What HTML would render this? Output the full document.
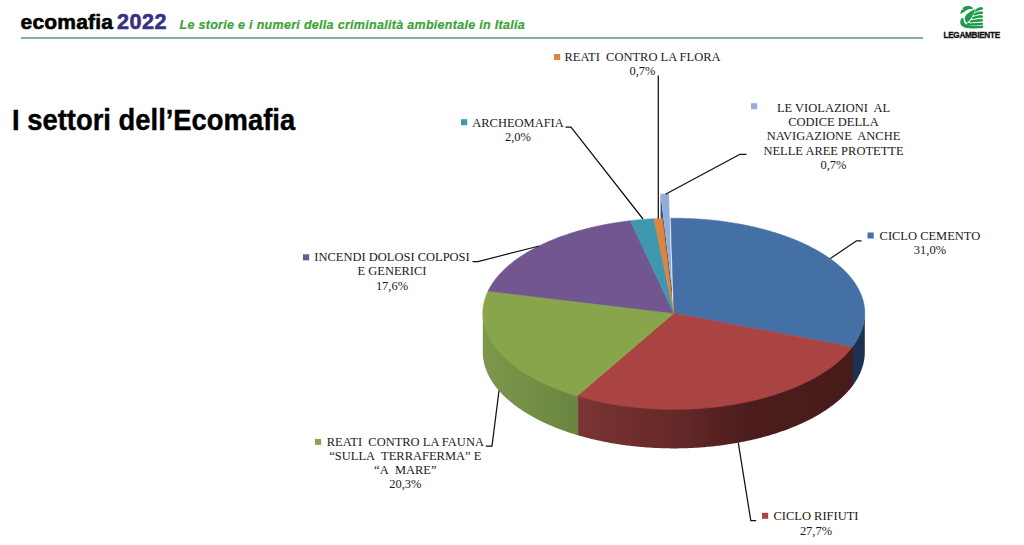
<!DOCTYPE html>
<html><head><meta charset="utf-8">
<style>
html,body{margin:0;padding:0;background:#fff;width:1024px;height:545px;overflow:hidden;position:relative}
.h{position:absolute;font-family:"Liberation Sans",sans-serif;font-weight:bold;white-space:nowrap;line-height:1}
#eco{left:20.5px;top:10.5px;font-size:21px;color:#000;letter-spacing:0.2px;-webkit-text-stroke:0.6px #000}
#yr{left:117px;top:11px;font-size:21.6px;color:#383087;letter-spacing:0.45px;-webkit-text-stroke:0.6px #383087}
#sub{left:179.5px;top:19px;font-size:12.5px;color:#3aa336;font-style:italic;letter-spacing:0.3px;-webkit-text-stroke:0.2px #3aa336}
#rule{position:absolute;left:21px;top:37px;width:902px;height:2px;background:#84acaa}
#title{left:12px;top:105px;font-size:29.3px;color:#000;-webkit-text-stroke:0.4px #000;transform:scaleX(0.935);transform-origin:0 0}
#lg{left:943.5px;top:31.8px;font-size:8.2px;color:#111;letter-spacing:-0.3px;-webkit-text-stroke:0.3px #111}
svg{position:absolute;left:0;top:0}
.lb{font-family:"Liberation Serif",serif;font-size:13.3px;fill:#1a1a1a}
</style></head><body>
<div class="h" id="eco">ecomafia</div>
<div class="h" id="yr">2022</div>
<div class="h" id="sub">Le storie e i numeri della criminalità ambientale in Italia</div>
<div id="rule"></div>
<div class="h" id="title">I settori dell’Ecomafia</div>
<div class="h" id="lg">LEGAMBIENTE</div>
<svg width="1024" height="545" viewBox="0 0 1024 545">
<g transform="translate(957,4) scale(0.04771)" fill="#1f9a4a">
<path d="M72,212 C78,150 100,95 150,60 C190,38 270,38 312,62 C328,74 334,90 328,108 C290,98 240,102 205,127 C170,152 130,182 72,212 Z"/>
<circle cx="120" cy="108" r="14" fill="#fff"/>
<path d="M398,98 C320,128 188,200 168,270 C158,332 183,382 215,398 C292,332 352,230 398,98 Z"/>
<path d="M112,282 C58,330 48,420 118,472 C180,518 330,518 548,502 L548,452 C420,468 300,468 222,438 C150,408 128,360 140,308 Z"/>
<g fill="none" stroke="#1f9a4a" stroke-linecap="round">
<path d="M392,142 C430,110 500,88 515,95" stroke-width="58"/>
<path d="M370,217 C420,190 500,178 515,185" stroke-width="58"/>
<path d="M345,292 C400,270 490,260 515,265" stroke-width="58"/>
<path d="M300,367 C370,350 480,343 515,345" stroke-width="58"/>
<path d="M235,427 C330,427 470,425 518,415" stroke-width="55"/>
</g>
<g fill="none" stroke="#fff" stroke-width="13">
<path d="M382,182 C430,150 500,138 565,140"/>
<path d="M357,257 C420,230 490,220 565,222"/>
<path d="M322,332 C390,310 480,302 565,303"/>
<path d="M268,402 C350,390 470,383 565,380"/>
<path d="M400,95 C352,230 292,332 218,398" stroke-width="11"/>
</g>
</g>
<defs>
<linearGradient id="gb" gradientUnits="userSpaceOnUse" x1="483" y1="0" x2="865" y2="0">
<stop offset="0" stop-color="#2a4870"/><stop offset="1" stop-color="#1c3150"/></linearGradient>
<linearGradient id="gr" gradientUnits="userSpaceOnUse" x1="577" y1="0" x2="865" y2="0">
<stop offset="0" stop-color="#7b3433"/><stop offset="0.35" stop-color="#652828"/><stop offset="0.6" stop-color="#4c1c1c"/><stop offset="1" stop-color="#471b1b"/></linearGradient>
<linearGradient id="gg" gradientUnits="userSpaceOnUse" x1="483" y1="0" x2="577" y2="0">
<stop offset="0" stop-color="#7d974b"/><stop offset="1" stop-color="#6a8540"/></linearGradient>
</defs>
<path d="M671.95,288.70 L660.56,193.87 L660.56,215.87 L671.95,310.70 Z" fill="#34527e"/>
<path d="M671.95,288.70 L660.56,193.87 L662.23,193.82 L663.91,193.78 L665.59,193.75 L667.27,193.73 L668.95,193.71 Z" fill="#92ADD8"/>
<path d="M864.80,311.70 L864.79,312.53 L864.77,313.37 L864.73,314.20 L864.68,315.03 L864.62,315.87 L864.54,316.70 L864.44,317.53 L864.33,318.36 L864.21,319.20 L864.07,320.03 L863.91,320.86 L863.74,321.69 L863.56,322.52 L863.36,323.35 L863.15,324.18 L862.92,325.01 L862.68,325.83 L862.43,326.66 L862.16,327.49 L861.87,328.31 L861.57,329.13 L861.26,329.96 L860.93,330.78 L860.59,331.60 L860.23,332.41 L859.86,333.23 L859.47,334.05 L859.07,334.86 L858.66,335.67 L858.23,336.48 L857.79,337.29 L857.33,338.10 L856.86,338.90 L856.38,339.71 L855.88,340.51 L855.36,341.31 L854.84,342.10 L854.30,342.90 L853.74,343.69 L853.17,344.48 L852.59,345.27 L851.99,346.06 L851.99,386.56 L852.59,385.77 L853.17,384.98 L853.74,384.19 L854.30,383.40 L854.84,382.60 L855.36,381.81 L855.88,381.01 L856.38,380.21 L856.86,379.40 L857.33,378.60 L857.79,377.79 L858.23,376.98 L858.66,376.17 L859.07,375.36 L859.47,374.55 L859.86,373.73 L860.23,372.91 L860.59,372.10 L860.93,371.28 L861.26,370.46 L861.57,369.63 L861.87,368.81 L862.16,367.99 L862.43,367.16 L862.68,366.33 L862.92,365.51 L863.15,364.68 L863.36,363.85 L863.56,363.02 L863.74,362.19 L863.91,361.36 L864.07,360.53 L864.21,359.70 L864.33,358.86 L864.44,358.03 L864.54,357.20 L864.62,356.37 L864.68,355.53 L864.73,354.70 L864.77,353.87 L864.79,353.03 L864.80,352.20 Z" fill="url(#gb)"/>
<path d="M852.94,344.80 L852.35,345.59 L851.75,346.37 L851.14,347.15 L850.51,347.92 L849.88,348.69 L849.22,349.47 L848.56,350.23 L847.88,351.00 L847.18,351.76 L846.48,352.52 L845.76,353.28 L845.03,354.03 L844.28,354.78 L843.52,355.53 L842.75,356.27 L841.97,357.01 L841.17,357.75 L840.36,358.48 L839.54,359.21 L838.71,359.94 L837.86,360.66 L837.00,361.38 L836.13,362.10 L835.24,362.81 L834.34,363.52 L833.43,364.22 L832.51,364.92 L831.58,365.62 L830.63,366.31 L829.68,367.00 L828.71,367.69 L827.73,368.37 L826.73,369.04 L825.73,369.71 L824.71,370.38 L823.68,371.04 L822.65,371.70 L821.60,372.36 L820.53,373.01 L819.46,373.65 L818.38,374.29 L817.28,374.93 L816.18,375.56 L815.06,376.19 L813.93,376.81 L812.79,377.42 L811.65,378.03 L810.49,378.64 L809.32,379.24 L808.14,379.84 L806.95,380.43 L805.75,381.02 L804.54,381.60 L803.32,382.17 L802.09,382.74 L800.85,383.31 L799.60,383.87 L798.34,384.42 L797.07,384.97 L795.79,385.51 L794.50,386.05 L793.21,386.58 L791.90,387.10 L790.58,387.62 L789.26,388.14 L787.93,388.65 L786.59,389.15 L785.24,389.65 L783.88,390.14 L782.51,390.62 L781.14,391.10 L779.76,391.57 L778.36,392.04 L776.97,392.50 L775.56,392.95 L774.14,393.40 L772.72,393.84 L771.29,394.28 L769.85,394.71 L768.41,395.13 L766.96,395.55 L765.50,395.96 L764.03,396.36 L762.56,396.76 L761.08,397.15 L759.59,397.53 L758.10,397.91 L756.60,398.28 L755.10,398.65 L753.59,399.01 L752.07,399.36 L750.54,399.70 L749.01,400.04 L747.48,400.37 L745.94,400.69 L744.39,401.01 L742.84,401.32 L741.28,401.62 L739.72,401.92 L738.15,402.21 L736.58,402.49 L735.01,402.77 L733.42,403.04 L731.84,403.30 L730.25,403.55 L728.65,403.80 L727.05,404.04 L725.45,404.27 L723.84,404.50 L722.23,404.72 L720.62,404.93 L719.00,405.13 L717.38,405.33 L715.75,405.52 L714.13,405.71 L712.49,405.88 L710.86,406.05 L709.22,406.21 L707.58,406.36 L705.94,406.51 L704.30,406.65 L702.65,406.78 L701.00,406.91 L699.35,407.02 L697.70,407.13 L696.04,407.24 L694.39,407.33 L692.73,407.42 L691.07,407.50 L689.41,407.57 L687.75,407.64 L686.08,407.70 L684.42,407.75 L682.75,407.79 L681.09,407.83 L679.42,407.86 L677.75,407.88 L676.09,407.89 L674.42,407.90 L672.75,407.90 L671.09,407.89 L669.42,407.87 L667.75,407.85 L666.09,407.82 L664.42,407.78 L662.76,407.74 L661.09,407.68 L659.43,407.62 L657.77,407.56 L656.11,407.48 L654.45,407.40 L652.79,407.31 L651.13,407.21 L649.48,407.11 L647.83,407.00 L646.18,406.88 L644.53,406.75 L642.88,406.62 L641.24,406.47 L639.60,406.33 L637.96,406.17 L636.32,406.01 L634.69,405.84 L633.06,405.66 L631.43,405.47 L629.81,405.28 L628.19,405.08 L626.57,404.88 L624.96,404.66 L623.35,404.44 L621.74,404.21 L620.14,403.98 L618.54,403.74 L616.95,403.49 L615.36,403.23 L613.77,402.97 L612.19,402.70 L610.62,402.42 L609.05,402.14 L607.48,401.84 L605.92,401.55 L604.36,401.24 L602.81,400.93 L601.27,400.61 L599.73,400.28 L598.19,399.95 L596.67,399.61 L595.14,399.27 L593.63,398.91 L592.12,398.55 L590.61,398.19 L589.12,397.82 L587.63,397.44 L586.14,397.05 L584.66,396.66 L583.19,396.26 L581.73,395.85 L580.27,395.44 L578.82,395.02 L577.38,394.60 L575.94,394.17 L575.94,434.67 L577.38,435.10 L578.82,435.52 L580.27,435.94 L581.73,436.35 L583.19,436.76 L584.66,437.16 L586.14,437.55 L587.63,437.94 L589.12,438.32 L590.61,438.69 L592.12,439.05 L593.63,439.41 L595.14,439.77 L596.67,440.11 L598.19,440.45 L599.73,440.78 L601.27,441.11 L602.81,441.43 L604.36,441.74 L605.92,442.05 L607.48,442.34 L609.05,442.64 L610.62,442.92 L612.19,443.20 L613.77,443.47 L615.36,443.73 L616.95,443.99 L618.54,444.24 L620.14,444.48 L621.74,444.71 L623.35,444.94 L624.96,445.16 L626.57,445.38 L628.19,445.58 L629.81,445.78 L631.43,445.97 L633.06,446.16 L634.69,446.34 L636.32,446.51 L637.96,446.67 L639.60,446.83 L641.24,446.97 L642.88,447.12 L644.53,447.25 L646.18,447.38 L647.83,447.50 L649.48,447.61 L651.13,447.71 L652.79,447.81 L654.45,447.90 L656.11,447.98 L657.77,448.06 L659.43,448.12 L661.09,448.18 L662.76,448.24 L664.42,448.28 L666.09,448.32 L667.75,448.35 L669.42,448.37 L671.09,448.39 L672.75,448.40 L674.42,448.40 L676.09,448.39 L677.75,448.38 L679.42,448.36 L681.09,448.33 L682.75,448.29 L684.42,448.25 L686.08,448.20 L687.75,448.14 L689.41,448.07 L691.07,448.00 L692.73,447.92 L694.39,447.83 L696.04,447.74 L697.70,447.63 L699.35,447.52 L701.00,447.41 L702.65,447.28 L704.30,447.15 L705.94,447.01 L707.58,446.86 L709.22,446.71 L710.86,446.55 L712.49,446.38 L714.13,446.21 L715.75,446.02 L717.38,445.83 L719.00,445.63 L720.62,445.43 L722.23,445.22 L723.84,445.00 L725.45,444.77 L727.05,444.54 L728.65,444.30 L730.25,444.05 L731.84,443.80 L733.42,443.54 L735.01,443.27 L736.58,442.99 L738.15,442.71 L739.72,442.42 L741.28,442.12 L742.84,441.82 L744.39,441.51 L745.94,441.19 L747.48,440.87 L749.01,440.54 L750.54,440.20 L752.07,439.86 L753.59,439.51 L755.10,439.15 L756.60,438.78 L758.10,438.41 L759.59,438.03 L761.08,437.65 L762.56,437.26 L764.03,436.86 L765.50,436.46 L766.96,436.05 L768.41,435.63 L769.85,435.21 L771.29,434.78 L772.72,434.34 L774.14,433.90 L775.56,433.45 L776.97,433.00 L778.36,432.54 L779.76,432.07 L781.14,431.60 L782.51,431.12 L783.88,430.64 L785.24,430.15 L786.59,429.65 L787.93,429.15 L789.26,428.64 L790.58,428.12 L791.90,427.60 L793.21,427.08 L794.50,426.55 L795.79,426.01 L797.07,425.47 L798.34,424.92 L799.60,424.37 L800.85,423.81 L802.09,423.24 L803.32,422.67 L804.54,422.10 L805.75,421.52 L806.95,420.93 L808.14,420.34 L809.32,419.74 L810.49,419.14 L811.65,418.53 L812.79,417.92 L813.93,417.31 L815.06,416.69 L816.18,416.06 L817.28,415.43 L818.38,414.79 L819.46,414.15 L820.53,413.51 L821.60,412.86 L822.65,412.20 L823.68,411.54 L824.71,410.88 L825.73,410.21 L826.73,409.54 L827.73,408.87 L828.71,408.19 L829.68,407.50 L830.63,406.81 L831.58,406.12 L832.51,405.42 L833.43,404.72 L834.34,404.02 L835.24,403.31 L836.13,402.60 L837.00,401.88 L837.86,401.16 L838.71,400.44 L839.54,399.71 L840.36,398.98 L841.17,398.25 L841.97,397.51 L842.75,396.77 L843.52,396.03 L844.28,395.28 L845.03,394.53 L845.76,393.78 L846.48,393.02 L847.18,392.26 L847.88,391.50 L848.56,390.73 L849.22,389.97 L849.88,389.19 L850.51,388.42 L851.14,387.65 L851.75,386.87 L852.35,386.09 L852.94,385.30 Z" fill="url(#gr)"/>
<path d="M578.24,394.86 L576.79,394.42 L575.35,393.99 L573.91,393.54 L572.48,393.10 L571.06,392.64 L569.65,392.18 L568.25,391.71 L566.85,391.23 L565.46,390.75 L564.08,390.27 L562.71,389.77 L561.35,389.27 L559.99,388.77 L558.65,388.26 L557.31,387.74 L555.99,387.22 L554.67,386.69 L553.36,386.15 L552.06,385.61 L550.77,385.07 L549.49,384.52 L548.22,383.96 L546.96,383.40 L545.71,382.83 L544.47,382.26 L543.23,381.68 L542.01,381.09 L540.80,380.50 L539.60,379.91 L538.41,379.31 L537.23,378.70 L536.06,378.09 L534.90,377.47 L533.75,376.85 L532.62,376.23 L531.49,375.60 L530.38,374.96 L529.27,374.32 L528.18,373.68 L527.10,373.03 L526.03,372.37 L524.97,371.71 L523.92,371.05 L522.89,370.38 L521.86,369.71 L520.85,369.03 L519.85,368.35 L518.86,367.66 L517.88,366.97 L516.92,366.28 L515.97,365.58 L515.03,364.88 L514.10,364.17 L513.18,363.46 L512.28,362.75 L511.39,362.03 L510.51,361.31 L509.65,360.58 L508.79,359.85 L507.95,359.12 L507.13,358.38 L506.31,357.64 L505.51,356.90 L504.72,356.15 L503.95,355.40 L503.19,354.65 L502.44,353.89 L501.70,353.13 L500.98,352.37 L500.27,351.60 L499.58,350.83 L498.89,350.06 L498.23,349.29 L497.57,348.51 L496.93,347.73 L496.30,346.95 L495.69,346.16 L495.09,345.38 L494.50,344.59 L493.93,343.79 L493.37,343.00 L492.83,342.20 L492.30,341.40 L491.78,340.60 L491.28,339.80 L490.79,338.99 L490.32,338.18 L489.86,337.37 L489.41,336.56 L488.98,335.75 L488.56,334.94 L488.16,334.12 L487.77,333.30 L487.40,332.48 L487.04,331.66 L486.70,330.84 L486.37,330.02 L486.05,329.19 L485.75,328.37 L485.46,327.54 L485.19,326.71 L484.93,325.88 L484.69,325.05 L484.46,324.22 L484.25,323.39 L484.05,322.56 L483.86,321.72 L483.69,320.89 L483.54,320.06 L483.40,319.22 L483.27,318.39 L483.16,317.55 L483.07,316.72 L482.98,315.88 L482.92,315.04 L482.87,314.21 L482.83,313.37 L482.81,312.54 L482.80,311.70 L482.80,352.20 L482.81,353.04 L482.83,353.87 L482.87,354.71 L482.92,355.54 L482.98,356.38 L483.07,357.22 L483.16,358.05 L483.27,358.89 L483.40,359.72 L483.54,360.56 L483.69,361.39 L483.86,362.22 L484.05,363.06 L484.25,363.89 L484.46,364.72 L484.69,365.55 L484.93,366.38 L485.19,367.21 L485.46,368.04 L485.75,368.87 L486.05,369.69 L486.37,370.52 L486.70,371.34 L487.04,372.16 L487.40,372.98 L487.77,373.80 L488.16,374.62 L488.56,375.44 L488.98,376.25 L489.41,377.06 L489.86,377.87 L490.32,378.68 L490.79,379.49 L491.28,380.30 L491.78,381.10 L492.30,381.90 L492.83,382.70 L493.37,383.50 L493.93,384.29 L494.50,385.09 L495.09,385.88 L495.69,386.66 L496.30,387.45 L496.93,388.23 L497.57,389.01 L498.23,389.79 L498.89,390.56 L499.58,391.33 L500.27,392.10 L500.98,392.87 L501.70,393.63 L502.44,394.39 L503.19,395.15 L503.95,395.90 L504.72,396.65 L505.51,397.40 L506.31,398.14 L507.13,398.88 L507.95,399.62 L508.79,400.35 L509.65,401.08 L510.51,401.81 L511.39,402.53 L512.28,403.25 L513.18,403.96 L514.10,404.67 L515.03,405.38 L515.97,406.08 L516.92,406.78 L517.88,407.47 L518.86,408.16 L519.85,408.85 L520.85,409.53 L521.86,410.21 L522.89,410.88 L523.92,411.55 L524.97,412.21 L526.03,412.87 L527.10,413.53 L528.18,414.18 L529.27,414.82 L530.38,415.46 L531.49,416.10 L532.62,416.73 L533.75,417.35 L534.90,417.97 L536.06,418.59 L537.23,419.20 L538.41,419.81 L539.60,420.41 L540.80,421.00 L542.01,421.59 L543.23,422.18 L544.47,422.76 L545.71,423.33 L546.96,423.90 L548.22,424.46 L549.49,425.02 L550.77,425.57 L552.06,426.11 L553.36,426.65 L554.67,427.19 L555.99,427.72 L557.31,428.24 L558.65,428.76 L559.99,429.27 L561.35,429.77 L562.71,430.27 L564.08,430.77 L565.46,431.25 L566.85,431.73 L568.25,432.21 L569.65,432.68 L571.06,433.14 L572.48,433.60 L573.91,434.04 L575.35,434.49 L576.79,434.92 L578.24,435.36 Z" fill="url(#gg)"/>
<path d="M673.80,313.20 L670.80,218.21 L672.47,218.20 L674.14,218.20 L675.80,218.21 L677.47,218.22 L679.14,218.24 L680.81,218.26 L682.47,218.30 L684.14,218.34 L685.81,218.39 L687.47,218.44 L689.13,218.51 L690.80,218.58 L692.46,218.65 L694.12,218.74 L695.78,218.83 L697.43,218.93 L699.09,219.04 L700.74,219.15 L702.39,219.27 L704.04,219.40 L705.68,219.53 L707.33,219.68 L708.97,219.82 L710.61,219.98 L712.24,220.14 L713.88,220.31 L715.50,220.49 L717.13,220.68 L718.75,220.87 L720.37,221.07 L721.99,221.27 L723.60,221.49 L725.21,221.71 L726.82,221.93 L728.42,222.17 L730.01,222.41 L731.61,222.66 L733.19,222.91 L734.78,223.17 L736.36,223.44 L737.93,223.71 L739.50,224.00 L741.06,224.29 L742.62,224.58 L744.17,224.88 L745.72,225.19 L747.27,225.51 L748.80,225.83 L750.33,226.16 L751.86,226.50 L753.38,226.84 L754.89,227.19 L756.40,227.54 L757.90,227.91 L759.40,228.27 L760.88,228.65 L762.37,229.03 L763.84,229.42 L765.31,229.81 L766.77,230.21 L768.22,230.62 L769.67,231.03 L771.11,231.45 L772.54,231.88 L773.96,232.31 L775.38,232.75 L776.79,233.19 L778.19,233.64 L779.58,234.10 L780.97,234.56 L782.35,235.03 L783.71,235.51 L785.07,235.99 L786.43,236.47 L787.77,236.97 L789.10,237.46 L790.43,237.97 L791.75,238.48 L793.05,238.99 L794.35,239.51 L795.64,240.04 L796.92,240.57 L798.19,241.11 L799.45,241.65 L800.70,242.20 L801.95,242.76 L803.18,243.31 L804.40,243.88 L805.61,244.45 L806.82,245.02 L808.01,245.61 L809.19,246.19 L810.36,246.78 L811.52,247.38 L812.67,247.98 L813.81,248.58 L814.94,249.19 L816.06,249.81 L817.17,250.43 L818.27,251.06 L819.35,251.69 L820.43,252.32 L821.49,252.96 L822.54,253.60 L823.58,254.25 L824.61,254.91 L825.63,255.56 L826.64,256.22 L827.63,256.89 L828.61,257.56 L829.59,258.24 L830.54,258.91 L831.49,259.60 L832.43,260.28 L833.35,260.98 L834.26,261.67 L835.16,262.37 L836.05,263.07 L836.92,263.78 L837.78,264.49 L838.63,265.20 L839.47,265.92 L840.29,266.64 L841.10,267.37 L841.90,268.10 L842.69,268.83 L843.46,269.56 L844.22,270.30 L844.97,271.05 L845.70,271.79 L846.42,272.54 L847.13,273.29 L847.82,274.05 L848.50,274.80 L849.17,275.56 L849.83,276.33 L850.47,277.09 L851.09,277.86 L851.71,278.63 L852.31,279.41 L852.89,280.18 L853.47,280.96 L854.03,281.74 L854.57,282.53 L855.10,283.32 L855.62,284.10 L856.13,284.90 L856.62,285.69 L857.09,286.48 L857.55,287.28 L858.00,288.08 L858.44,288.88 L858.86,289.68 L859.26,290.49 L859.65,291.30 L860.03,292.10 L860.39,292.91 L860.74,293.73 L861.08,294.54 L861.40,295.35 L861.71,296.17 L862.00,296.99 L862.27,297.80 L862.54,298.62 L862.79,299.44 L863.02,300.27 L863.24,301.09 L863.45,301.91 L863.64,302.74 L863.81,303.56 L863.98,304.39 L864.12,305.21 L864.26,306.04 L864.38,306.87 L864.48,307.70 L864.57,308.52 L864.64,309.35 L864.70,310.18 L864.75,311.01 L864.78,311.84 L864.80,312.67 L864.80,313.50 L864.79,314.33 L864.76,315.16 L864.72,315.99 L864.66,316.82 L864.59,317.65 L864.51,318.48 L864.41,319.31 L864.29,320.14 L864.16,320.97 L864.02,321.80 L863.86,322.62 L863.69,323.45 L863.50,324.28 L863.30,325.11 L863.08,325.93 L862.85,326.76 L862.61,327.58 L862.35,328.40 L862.07,329.22 L861.79,330.05 L861.48,330.87 L861.17,331.68 L860.84,332.50 L860.49,333.32 L860.13,334.13 L859.76,334.94 L859.37,335.76 L858.97,336.57 L858.55,337.38 L858.12,338.18 L857.68,338.99 L857.22,339.79 L856.75,340.59 L856.26,341.39 L855.76,342.19 L855.25,342.99 L854.72,343.78 L854.18,344.57 L853.62,345.36 L853.05,346.15 L852.47,346.93 Z" fill="#4470A5" stroke="#4470A5" stroke-width="0.5"/>
<path d="M673.80,313.20 L852.47,346.93 L851.87,347.71 L851.26,348.49 L850.64,349.27 L850.00,350.05 L849.35,350.82 L848.68,351.59 L848.00,352.36 L847.31,353.12 L846.61,353.88 L845.89,354.64 L845.16,355.40 L844.41,356.15 L843.66,356.90 L842.89,357.64 L842.10,358.38 L841.31,359.12 L840.50,359.86 L839.68,360.59 L838.84,361.32 L837.99,362.05 L837.13,362.77 L836.26,363.49 L835.38,364.20 L834.48,364.91 L833.57,365.62 L832.65,366.32 L831.72,367.02 L830.77,367.71 L829.81,368.40 L828.84,369.09 L827.86,369.77 L826.87,370.45 L825.86,371.12 L824.85,371.79 L823.82,372.46 L822.78,373.12 L821.73,373.78 L820.67,374.43 L819.59,375.07 L818.51,375.72 L817.41,376.35 L816.30,376.99 L815.19,377.61 L814.06,378.24 L812.92,378.86 L811.77,379.47 L810.61,380.08 L809.44,380.68 L808.26,381.28 L807.07,381.87 L805.86,382.46 L804.65,383.04 L803.43,383.62 L802.20,384.19 L800.96,384.76 L799.71,385.32 L798.44,385.87 L797.17,386.42 L795.89,386.97 L794.60,387.50 L793.31,388.04 L792.00,388.56 L790.68,389.09 L789.36,389.60 L788.02,390.11 L786.68,390.62 L785.33,391.11 L783.97,391.61 L782.60,392.09 L781.22,392.57 L779.83,393.05 L778.44,393.51 L777.04,393.98 L775.63,394.43 L774.21,394.88 L772.79,395.32 L771.36,395.76 L769.92,396.19 L768.47,396.61 L767.01,397.03 L765.55,397.44 L764.08,397.85 L762.61,398.25 L761.13,398.64 L759.64,399.02 L758.14,399.40 L756.64,399.77 L755.13,400.14 L753.62,400.50 L752.10,400.85 L750.57,401.19 L749.04,401.53 L747.50,401.86 L745.96,402.19 L744.41,402.51 L742.85,402.82 L741.29,403.12 L739.73,403.42 L738.16,403.71 L736.58,403.99 L735.00,404.27 L733.42,404.54 L731.83,404.80 L730.23,405.05 L728.63,405.30 L727.03,405.54 L725.43,405.78 L723.82,406.00 L722.20,406.22 L720.58,406.43 L718.96,406.64 L717.34,406.84 L715.71,407.03 L714.08,407.21 L712.44,407.39 L710.81,407.55 L709.17,407.72 L707.52,407.87 L705.88,408.02 L704.23,408.16 L702.58,408.29 L700.93,408.41 L699.27,408.53 L697.62,408.64 L695.96,408.74 L694.30,408.84 L692.64,408.93 L690.97,409.01 L689.31,409.08 L687.64,409.14 L685.98,409.20 L684.31,409.25 L682.64,409.30 L680.97,409.33 L679.30,409.36 L677.63,409.38 L675.96,409.39 L674.29,409.40 L672.62,409.40 L670.95,409.39 L669.28,409.37 L667.61,409.35 L665.94,409.32 L664.27,409.28 L662.60,409.23 L660.94,409.18 L659.27,409.12 L657.61,409.05 L655.94,408.97 L654.28,408.89 L652.62,408.80 L650.96,408.70 L649.30,408.60 L647.65,408.48 L645.99,408.36 L644.34,408.23 L642.69,408.10 L641.04,407.96 L639.40,407.81 L637.76,407.65 L636.12,407.49 L634.48,407.31 L632.85,407.14 L631.22,406.95 L629.59,406.76 L627.97,406.56 L626.35,406.35 L624.73,406.13 L623.12,405.91 L621.51,405.68 L619.91,405.44 L618.31,405.20 L616.71,404.95 L615.12,404.69 L613.53,404.43 L611.95,404.16 L610.37,403.88 L608.80,403.59 L607.23,403.30 L605.67,403.00 L604.11,402.69 L602.56,402.38 L601.01,402.06 L599.47,401.73 L597.93,401.39 L596.40,401.05 L594.88,400.71 L593.36,400.35 L591.85,399.99 L590.34,399.62 L588.84,399.25 L587.35,398.87 L585.86,398.48 L584.38,398.08 L582.91,397.68 L581.44,397.28 L579.99,396.86 L578.53,396.44 L577.09,396.01 Z" fill="#A94443" stroke="#A94443" stroke-width="0.5"/>
<path d="M673.80,313.20 L577.09,396.01 L575.65,395.58 L574.23,395.14 L572.81,394.70 L571.39,394.25 L569.99,393.79 L568.59,393.33 L567.20,392.86 L565.82,392.38 L564.45,391.90 L563.09,391.41 L561.73,390.92 L560.39,390.42 L559.05,389.91 L557.72,389.40 L556.40,388.88 L555.09,388.36 L553.78,387.83 L552.49,387.29 L551.21,386.75 L549.93,386.21 L548.67,385.66 L547.41,385.10 L546.16,384.54 L544.93,383.97 L543.70,383.40 L542.48,382.82 L541.28,382.23 L540.08,381.65 L538.89,381.05 L537.72,380.45 L536.55,379.85 L535.40,379.24 L534.25,378.62 L533.12,378.01 L532.00,377.38 L530.88,376.75 L529.78,376.12 L528.69,375.48 L527.61,374.84 L526.54,374.19 L525.49,373.54 L524.44,372.88 L523.41,372.22 L522.38,371.55 L521.37,370.88 L520.37,370.21 L519.38,369.53 L518.41,368.84 L517.44,368.16 L516.49,367.47 L515.55,366.77 L514.62,366.07 L513.71,365.37 L512.80,364.66 L511.91,363.95 L511.03,363.24 L510.16,362.52 L509.31,361.80 L508.47,361.07 L507.64,360.34 L506.82,359.61 L506.02,358.87 L505.23,358.13 L504.45,357.39 L503.68,356.64 L502.93,355.89 L502.19,355.14 L501.47,354.39 L500.75,353.63 L500.06,352.87 L499.37,352.10 L498.70,351.33 L498.04,350.56 L497.39,349.79 L496.76,349.02 L496.14,348.24 L495.53,347.46 L494.94,346.68 L494.36,345.89 L493.80,345.10 L493.24,344.31 L492.71,343.52 L492.18,342.73 L491.67,341.93 L491.18,341.13 L490.70,340.33 L490.23,339.53 L489.77,338.72 L489.34,337.92 L488.91,337.11 L488.50,336.30 L488.10,335.49 L487.72,334.68 L487.35,333.86 L486.99,333.05 L486.65,332.23 L486.33,331.41 L486.01,330.60 L485.72,329.77 L485.43,328.95 L485.16,328.13 L484.91,327.31 L484.67,326.48 L484.44,325.66 L484.23,324.83 L484.04,324.01 L483.85,323.18 L483.69,322.35 L483.53,321.52 L483.39,320.69 L483.27,319.86 L483.16,319.03 L483.06,318.21 L482.98,317.38 L482.92,316.55 L482.87,315.71 L482.83,314.88 L482.81,314.05 L482.80,313.22 L482.81,312.39 L482.83,311.56 L482.86,310.73 L482.91,309.91 L482.98,309.08 L483.06,308.25 L483.15,307.42 L483.26,306.59 L483.39,305.76 L483.52,304.94 L483.68,304.11 L483.84,303.28 L484.02,302.46 L484.22,301.63 L484.43,300.81 L484.66,299.99 L484.90,299.17 L485.15,298.35 L485.42,297.53 L485.70,296.71 L486.00,295.89 L486.31,295.08 L486.63,294.26 L486.97,293.45 L487.33,292.64 L487.69,291.83 L488.08,291.02 Z" fill="#89A54C" stroke="#89A54C" stroke-width="0.5"/>
<path d="M673.80,313.20 L488.08,291.02 L488.48,290.21 L488.89,289.40 L489.32,288.60 L489.76,287.79 L490.21,286.99 L490.68,286.19 L491.17,285.39 L491.66,284.60 L492.17,283.80 L492.70,283.01 L493.24,282.22 L493.79,281.43 L494.36,280.65 L494.94,279.87 L495.54,279.09 L496.15,278.31 L496.77,277.54 L497.40,276.77 L498.05,276.00 L498.72,275.23 L499.39,274.47 L500.08,273.71 L500.79,272.95 L501.50,272.20 L502.23,271.45 L502.98,270.70 L503.73,269.96 L504.50,269.22 L505.29,268.48 L506.08,267.75 L506.89,267.01 L507.71,266.29 L508.55,265.56 L509.39,264.85 L510.25,264.13 L511.13,263.42 L512.01,262.71 L512.91,262.00 L513.82,261.30 L514.74,260.61 L515.67,259.92 L516.62,259.23 L517.58,258.54 L518.55,257.86 L519.53,257.19 L520.52,256.52 L521.53,255.85 L522.55,255.19 L523.58,254.53 L524.62,253.88 L525.67,253.23 L526.74,252.58 L527.81,251.94 L528.90,251.31 L529.99,250.68 L531.10,250.05 L532.22,249.43 L533.35,248.82 L534.50,248.21 L535.65,247.60 L536.81,247.00 L537.98,246.40 L539.17,245.81 L540.36,245.23 L541.57,244.65 L542.78,244.07 L544.01,243.51 L545.24,242.94 L546.49,242.38 L547.74,241.83 L549.00,241.28 L550.28,240.74 L551.56,240.20 L552.85,239.67 L554.16,239.15 L555.47,238.63 L556.79,238.11 L558.12,237.61 L559.46,237.10 L560.80,236.61 L562.16,236.12 L563.52,235.63 L564.90,235.16 L566.28,234.68 L567.67,234.22 L569.06,233.76 L570.47,233.30 L571.88,232.85 L573.31,232.41 L574.73,231.98 L576.17,231.55 L577.62,231.12 L579.07,230.71 L580.53,230.30 L581.99,229.89 L583.47,229.50 L584.95,229.11 L586.44,228.72 L587.93,228.34 L589.43,227.97 L590.94,227.61 L592.45,227.25 L593.97,226.90 L595.50,226.55 L597.03,226.21 L598.57,225.88 L600.11,225.56 L601.66,225.24 L603.21,224.93 L604.77,224.62 L606.34,224.32 L607.91,224.03 L609.49,223.75 L611.07,223.47 L612.65,223.20 L614.24,222.94 L615.84,222.68 L617.44,222.43 L619.04,222.19 L620.65,221.95 L622.26,221.72 L623.88,221.50 L625.50,221.29 L627.12,221.08 L628.75,220.88 L630.38,220.69 Z" fill="#71568F" stroke="#71568F" stroke-width="0.5"/>
<path d="M673.80,313.20 L630.38,220.69 L632.05,220.50 L633.73,220.31 L635.40,220.14 L637.08,219.97 L638.77,219.81 L640.45,219.66 L642.14,219.51 L643.84,219.38 L645.53,219.25 L647.23,219.12 L648.93,219.01 L650.63,218.90 L652.33,218.80 L654.03,218.71 Z" fill="#3F98AF" stroke="#3F98AF" stroke-width="0.5"/>
<path d="M673.80,313.20 L654.03,218.71 L655.71,218.63 L657.38,218.55 L659.05,218.48 L660.73,218.42 L662.41,218.37 Z" fill="#DF843B" stroke="#DF843B" stroke-width="0.5"/>
<path d="M658.3,75.5 L658.3,218.5" fill="none" stroke="#111" stroke-width="1.25"/>
<path d="M565.5,127.2 L571,127.2 L643,219" fill="none" stroke="#111" stroke-width="1.25"/>
<path d="M739.5,154.3 L746.5,154.3 M740,154.3 L665.5,194.3" fill="none" stroke="#111" stroke-width="1.25"/>
<path d="M861.5,240.8 L856.5,240.8 L830.3,258.6" fill="none" stroke="#111" stroke-width="1.25"/>
<path d="M472.5,261.6 L478,261.6 L539.2,246" fill="none" stroke="#111" stroke-width="1.25"/>
<path d="M485.8,446 L492,446 L499,390.7" fill="none" stroke="#111" stroke-width="1.25"/>
<path d="M738.3,442.9 L750.8,520.5 L756.2,520.5" fill="none" stroke="#111" stroke-width="1.25"/>
<rect x="554.00" y="54.00" width="6.2" height="6" fill="#DF843B"/>
<text transform="translate(642.50 60.50) scale(0.94 1)" text-anchor="middle" class="lb">REATI&#160; CONTRO LA FLORA</text>
<text transform="translate(642.50 74.80) scale(0.94 1)" text-anchor="middle" class="lb">0,7%</text>
<rect x="461.00" y="119.20" width="6.2" height="6" fill="#3F98AF"/>
<text transform="translate(518.00 126.80) scale(0.94 1)" text-anchor="middle" class="lb">ARCHEOMAFIA</text>
<text transform="translate(518.00 141.10) scale(0.94 1)" text-anchor="middle" class="lb">2,0%</text>
<rect x="751.00" y="103.20" width="6.2" height="6" fill="#92ADD8"/>
<text transform="translate(833.50 111.70) scale(0.94 1)" text-anchor="middle" class="lb">LE VIOLAZIONI&#160; AL</text>
<text transform="translate(833.50 126.00) scale(0.94 1)" text-anchor="middle" class="lb">CODICE DELLA</text>
<text transform="translate(833.50 140.30) scale(0.94 1)" text-anchor="middle" class="lb">NAVIGAZIONE&#160; ANCHE</text>
<text transform="translate(833.50 154.60) scale(0.94 1)" text-anchor="middle" class="lb">NELLE AREE PROTETTE</text>
<text transform="translate(833.50 168.90) scale(0.94 1)" text-anchor="middle" class="lb">0,7%</text>
<rect x="867.50" y="232.50" width="6.2" height="6" fill="#4470A5"/>
<text transform="translate(929.90 239.90) scale(0.94 1)" text-anchor="middle" class="lb">CICLO CEMENTO</text>
<text transform="translate(929.90 254.20) scale(0.94 1)" text-anchor="middle" class="lb">31,0%</text>
<rect x="303.00" y="254.30" width="6.2" height="6" fill="#71568F"/>
<text transform="translate(392.00 261.10) scale(0.94 1)" text-anchor="middle" class="lb">INCENDI DOLOSI COLPOSI</text>
<text transform="translate(392.00 275.40) scale(0.94 1)" text-anchor="middle" class="lb">E GENERICI</text>
<text transform="translate(392.00 289.70) scale(0.94 1)" text-anchor="middle" class="lb">17,6%</text>
<rect x="315.00" y="438.90" width="6.2" height="6" fill="#89A54C"/>
<text transform="translate(405.30 445.50) scale(0.94 1)" text-anchor="middle" class="lb">REATI&#160; CONTRO LA FAUNA</text>
<text transform="translate(405.30 459.80) scale(0.94 1)" text-anchor="middle" class="lb">“SULLA&#160; TERRAFERMA” E</text>
<text transform="translate(405.30 474.10) scale(0.94 1)" text-anchor="middle" class="lb">“A&#160; MARE”</text>
<text transform="translate(405.30 488.40) scale(0.94 1)" text-anchor="middle" class="lb">20,3%</text>
<rect x="762.00" y="512.80" width="6.2" height="6" fill="#A94443"/>
<text transform="translate(816.00 520.20) scale(0.94 1)" text-anchor="middle" class="lb">CICLO RIFIUTI</text>
<text transform="translate(816.00 534.50) scale(0.94 1)" text-anchor="middle" class="lb">27,7%</text>
</svg>
</body></html>
